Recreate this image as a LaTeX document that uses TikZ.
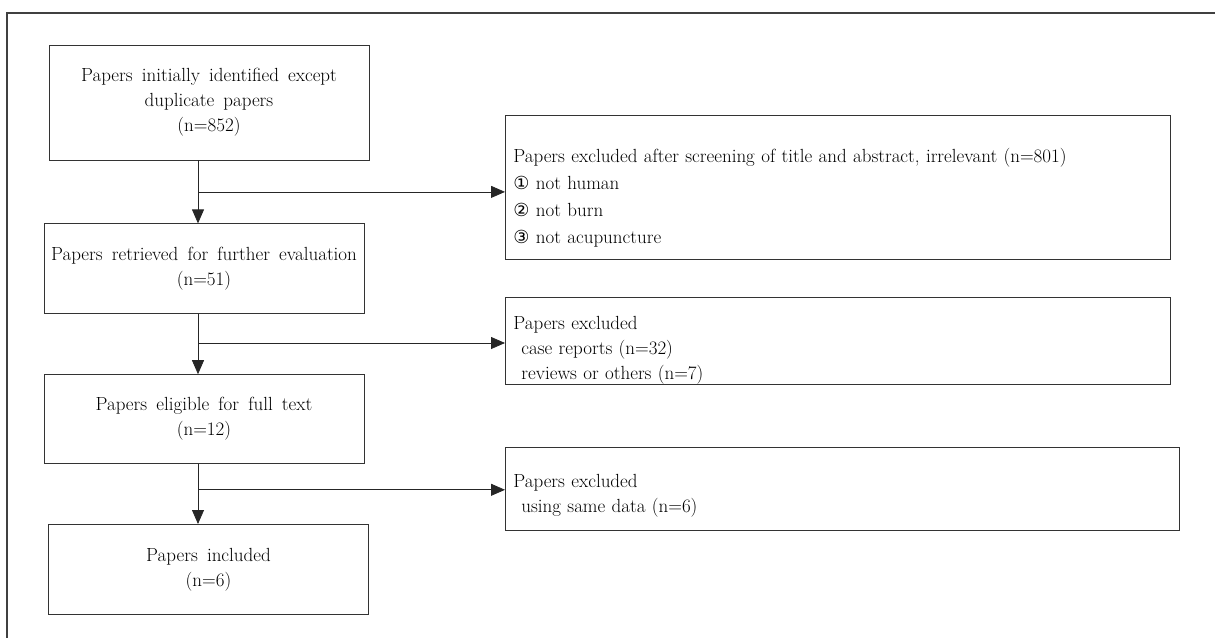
\documentclass[tikz,border=0pt]{standalone}
\usepackage{fontspec}
\setmainfont[WordSpace=1.6]{Latin Modern Roman}
\newfontfamily\circfont{DejaVu Sans}
\usetikzlibrary{positioning,arrows.meta,calc}

% circled item numbers and extra room above the first line of a side box
\newcommand{\circnum}[1]{{\circfont\fontsize{18}{27}\selectfont #1}}
\newcommand{\topgap}[1][36pt]{\rule{0pt}{#1}}

\tikzset{
  mainbox/.style={draw=black!80, line width=0.8pt, rectangle, minimum width=320pt,
    align=center, font=\fontsize{19}{25}\selectfont},
  sidebox/.style={draw=black!80, line width=0.8pt, rectangle, text width=649pt,
    anchor=west, align=left, inner xsep=8pt, inner ysep=0pt, font=\fontsize{19}{25}\selectfont},
  flow/.style={draw=black!85, line width=0.8pt, -{Triangle[length=14pt,width=12pt]}},
  frame/.style={draw=black!75, line width=1.6pt}
}

\begin{document}
\begin{tikzpicture}
    \useasboundingbox (0,0) rectangle (1215pt,-637pt);
    \draw[frame] (7pt,-640pt) -- (7pt,-13pt) -- (1216pt,-13pt);

    \node[mainbox, minimum height=115pt] (ident) at (209pt,-102.5pt) {Papers initially identified except\\duplicate papers\\(n=852)};
    \node[mainbox, minimum height=90pt, below=63pt of ident, xshift=-5pt] (retr) {Papers retrieved for further evaluation\\(n=51)};
    \node[mainbox, minimum height=89pt, below=60pt of retr] (elig) {Papers eligible for full text\\(n=12)};
    \node[mainbox, minimum height=90pt, below=60pt of elig, xshift=4.5pt] (incl) {Papers included\\(n=6)};

    \coordinate (trunk) at (198pt,0);
    \coordinate (j1) at ($(ident.south -| trunk)!0.5!(retr.north -| trunk)$);
    \coordinate (j2) at ($(retr.south -| trunk)!0.48!(elig.north -| trunk)$);
    \coordinate (j3) at ($(elig.south -| trunk)!0.43!(incl.north -| trunk)$);

    \node[sidebox, minimum height=144pt, font=\fontsize{19}{27}\selectfont] (screen) at (505pt,-187pt) {\topgap[36pt]Papers excluded after screening of title and abstract, irrelevant (n=801)\\\circnum{①} not human\\\circnum{②} not burn\\\circnum{③} not acupuncture};
    \node[sidebox, minimum height=87pt] (excl) at (505pt,-340.5pt) {\topgap[32pt]Papers excluded\\\hspace*{8pt}case reports (n=32)\\\hspace*{8pt}reviews or others (n=7)};
    \node[sidebox, minimum height=83pt, text width=658pt] (same) at (505pt,-488.5pt) {\topgap[27pt]Papers excluded\\\hspace*{8pt}using same data (n=6)};

    \draw[flow] (ident.south -| trunk) -- (retr.north -| trunk);
    \draw[flow] (retr.south -| trunk) -- (elig.north -| trunk);
    \draw[flow] (elig.south -| trunk) -- (incl.north -| trunk);

    \draw[flow] (j1) -- (screen.west |- j1);
    \draw[flow] (j2) -- (excl.west |- j2);
    \draw[flow] (j3) -- (same.west |- j3);
\end{tikzpicture}
\end{document}
